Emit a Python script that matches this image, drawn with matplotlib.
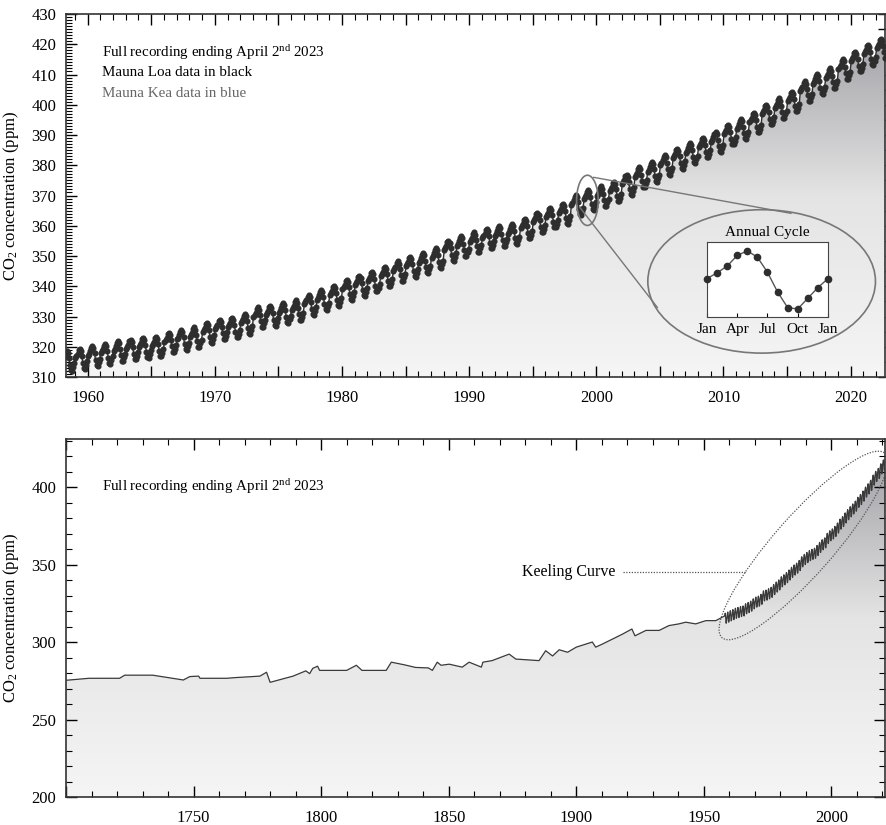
import matplotlib.pyplot as plt
import numpy as np
from matplotlib.patches import Ellipse, Polygon
from matplotlib.ticker import MultipleLocator, FuncFormatter, NullFormatter
from matplotlib.colors import LinearSegmentedColormap

plt.rcParams['font.family'] = ['Liberation Serif', 'DejaVu Serif']
plt.rcParams['mathtext.fontset'] = 'custom'
plt.rcParams['mathtext.rm'] = 'Liberation Serif'
plt.rcParams['mathtext.it'] = 'Liberation Serif:italic'

# Mauna Loa annual means (ppm), 1958 - 2023
years = list(range(1958, 2024))
annual = [315.3, 316.0, 316.9, 317.6, 318.5, 319.0, 319.6, 320.0, 321.4, 322.2,
          323.1, 324.6, 325.7, 326.3, 327.5, 329.7, 330.2, 331.1, 332.0, 333.8,
          335.4, 336.8, 338.8, 340.1, 341.5, 343.2, 344.9, 346.4, 347.6, 349.3,
          351.7, 353.2, 354.5, 355.7, 356.5, 357.2, 359.0, 361.0, 362.7, 363.9,
          366.8, 368.5, 369.7, 371.3, 373.5, 376.0, 377.7, 380.0, 382.1, 384.0,
          385.8, 387.6, 390.1, 391.9, 394.1, 396.7, 398.8, 401.0, 404.4, 406.8,
          408.7, 411.7, 414.2, 416.5, 418.6, 420.5]

# annual cycle from the inset (deviation, ppm), Jan ... Jan
cycle_labels = ['Jan', 'Apr', 'Jul', 'Oct', 'Jan']
cycle = [0.2, 0.85, 1.6, 2.8, 3.3, 2.6, 0.9, -1.3, -3.05, -3.2, -2.0, -0.8, 0.2]

# ice core record, bottom panel
ice_years = [1700, 1705, 1709, 1721, 1723, 1734, 1746, 1748.5, 1752, 1752.5, 1763, 1766,
             1776, 1778.6, 1780, 1789, 1794, 1795.5, 1796.7, 1798.6, 1799.4, 1810,
             1813.8, 1816, 1825.5, 1827.5, 1832.6, 1837, 1842, 1843.6, 1845.5, 1847,
             1850.2, 1855.3, 1858, 1862.8, 1863.4, 1867, 1873.7, 1876.3, 1885.4, 1888,
             1890.7, 1893.3, 1896.6, 1900, 1906.3, 1907.6, 1910, 1918, 1921.8, 1923,
             1927.3, 1932.5, 1936.3, 1940.2, 1942.9, 1946.8, 1950.8, 1954.7]
ice_co2 = [275.3, 276.0, 276.6, 276.6, 278.6, 278.6, 275.5, 277.7, 278.0, 276.6, 276.6, 277.0,
           278.0, 280.5, 274.0, 278.0, 281.4, 279.6, 283.0, 284.4, 281.7, 281.7,
           285.0, 281.7, 281.7, 287.0, 285.3, 283.6, 283.3, 281.7, 287.0, 285.0,
           285.7, 283.8, 287.0, 283.8, 287.0, 288.0, 292.2, 289.0, 288.0, 294.4,
           291.0, 295.0, 293.4, 296.7, 300.0, 296.7, 298.5, 305.0, 308.4, 304.0,
           307.5, 307.5, 310.6, 311.7, 312.8, 311.7, 313.8, 313.8]

# monthly series: annual mean plus the annual cycle, March 1958 to April 2023
t_month, co2_month = [], []
for yr, mean in zip(years, annual):
    for m in range(12):
        if (yr == 1958 and m < 2) or (yr == 2023 and m > 3):
            continue
        t_month.append(yr + (m + 0.5) / 12)
        co2_month.append(mean + cycle[m])
t_month = np.array(t_month)
co2_month = np.array(co2_month)

grad_cmap = LinearSegmentedColormap.from_list('g', ['#f5f5f5', '#e4e4e4', '#9a9aa0'])


def gradient_under(ax, x, y, xlim, ylim):
    px = np.concatenate([[x[0]], x, [x[-1]]])
    py = np.concatenate([[ylim[0] - 5], y, [ylim[0] - 5]])
    patch = Polygon(np.column_stack([px, py]), closed=True, facecolor='none', edgecolor='none')
    ax.add_patch(patch)
    g = np.linspace(0, 1, 256).reshape(-1, 1)
    im = ax.imshow(g, extent=[xlim[0], xlim[1], ylim[0], ylim[1]], origin='lower',
                   aspect='auto', cmap=grad_cmap, zorder=1)
    im.set_clip_path(patch)
    ax.set_xlim(xlim)
    ax.set_ylim(ylim)


def style_axes(ax):
    ax.tick_params(which='both', direction='in', top=True, right=True, labelsize=12)
    ax.tick_params(axis='x', pad=9)
    ax.tick_params(axis='y', pad=7)
    ax.tick_params(which='major', length=8, width=1)
    ax.tick_params(which='minor', length=4, width=0.8)
    for s in ax.spines.values():
        s.set_linewidth(1.2)
        s.set_color('#333333')


fig = plt.figure(figsize=(8.87, 8.25), dpi=100)

# ---- top panel ----
ax1 = fig.add_axes([66 / 887, 1 - 377 / 825, 819 / 887, 363 / 825])
xl1, yl1 = (1958.3, 2022.7), (310, 430)
gradient_under(ax1, t_month, co2_month, xl1, yl1)
ax1.plot(t_month, co2_month, color='#2e2e2e', lw=1.0, marker='o', ms=3.4, zorder=3)
style_axes(ax1)
ax1.tick_params(which='minor', axis='y', right=False)
ax1.xaxis.set_major_locator(MultipleLocator(5))
ax1.xaxis.set_minor_locator(MultipleLocator(1))
ax1.xaxis.set_major_formatter(FuncFormatter(lambda v, p: f'{int(v)}' if int(round(v)) % 10 == 0 else ''))
ax1.yaxis.set_major_locator(MultipleLocator(10))
ax1.yaxis.set_minor_locator(MultipleLocator(1))
# right side carries ticks every 5 ppm only
sec = ax1.secondary_yaxis('right')
sec.yaxis.set_major_locator(MultipleLocator(5))
sec.yaxis.set_major_formatter(NullFormatter())
sec.tick_params(direction='in', length=5, width=1)
sec.spines['right'].set_visible(False)
ax1.tick_params(which='major', axis='y', right=False)

ax1.set_ylabel('CO$_2$ concentration (ppm)', fontsize=12)
ax1.yaxis.set_label_coords(-0.055, 0.5)
ax1.text(0.044, 0.893, 'Full recording ending April 2$^{\\rm nd}$ 2023', transform=ax1.transAxes,
         fontsize=10.8, va='center')
ax1.text(0.044, 0.838, 'Mauna Loa data in black', transform=ax1.transAxes, fontsize=10.8, va='center')
ax1.text(0.044, 0.780, 'Mauna Kea data in blue', transform=ax1.transAxes, fontsize=10.8,
         va='center', color='#666666')

# zoom ellipses
ax1.add_patch(Ellipse((1999.3, 368.4), 1.7, 16.6, fill=False, edgecolor='#777777', lw=1.2, zorder=4))
ax1.add_patch(Ellipse((2013.0, 341.6), 17.9, 47.4, fill=False, edgecolor='#777777', lw=1.2, zorder=4))
ax1.plot([1999.8, 2015.3], [376.0, 364.1], color='#777777', lw=1.0, zorder=4)
ax1.plot([1998.7, 2004.8], [366.1, 333.0], color='#777777', lw=1.0, zorder=4)

# inset: annual cycle
axi = fig.add_axes([707 / 887, 1 - 317 / 825, 121 / 887, 75 / 825])
axi.set_facecolor('white')
axi.plot(range(13), cycle, color='#555555', lw=1.0, marker='o', ms=4.5, mfc='#2e2e2e',
         mec='#2e2e2e', clip_on=False, zorder=3)
axi.set_xlim(0, 12)
axi.set_ylim(-4.1, 4.3)
axi.set_xticks([0, 3, 6, 9, 12])
axi.set_xticklabels(cycle_labels)
axi.set_yticks([])
axi.tick_params(direction='in', length=3, labelsize=11, pad=4)
axi.set_title('Annual Cycle', fontsize=11, pad=4)
for s in axi.spines.values():
    s.set_color('#444444')

# ---- bottom panel ----
ax2 = fig.add_axes([66 / 887, 1 - 797 / 825, 819 / 887, 358 / 825])
xl2, yl2 = (1700, 2021), (200, 431)
bx = np.concatenate([ice_years, t_month])
by = np.concatenate([ice_co2, co2_month])
gradient_under(ax2, bx, by, xl2, yl2)
ax2.plot(bx, by, color='#3a3a3a', lw=0.9, zorder=3)
style_axes(ax2)
ax2.xaxis.set_major_locator(MultipleLocator(50))
ax2.xaxis.set_minor_locator(MultipleLocator(10))
ax2.xaxis.set_major_formatter(FuncFormatter(lambda v, p: '' if v < 1725 else f'{int(v)}'))
ax2.yaxis.set_major_locator(MultipleLocator(50))
ax2.yaxis.set_minor_locator(MultipleLocator(10))
ax2.set_ylabel('CO$_2$ concentration (ppm)', fontsize=12)
ax2.yaxis.set_label_coords(-0.055, 0.5)
ax2.text(0.044, 0.866, 'Full recording ending April 2$^{\\rm nd}$ 2023', transform=ax2.transAxes,
         fontsize=10.8, va='center')

# Keeling curve ellipse (drawn in inches so it keeps its shape)
cx, cy = fig.dpi_scale_trans.inverted().transform(ax2.transData.transform((1989.0, 362.3)))
ax2.add_patch(Ellipse((cx, cy), 2.46, 0.59, angle=48.6, fill=False, edgecolor='#555555',
                      lw=0.9, ls=(0, (1, 1.2)), transform=fig.dpi_scale_trans, zorder=4))
ax2.plot([1918.3, 1966.4], [345, 345], color='#555555', lw=0.9, ls=(0, (1, 1.2)), zorder=4)
ax2.text(1915.5, 345, 'Keeling Curve', fontsize=11.5, ha='right', va='center')

fig.savefig('out.png', dpi=100)
